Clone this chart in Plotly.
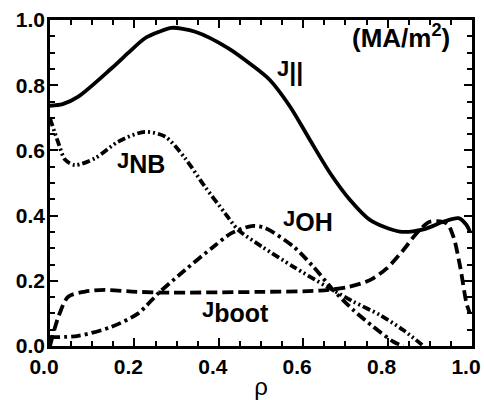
import plotly.graph_objects as go

# ---- data ----
rho_par = [0, 0.03, 0.067, 0.146, 0.186, 0.225, 0.257, 0.288, 0.344, 0.422, 0.478, 0.521,
           0.569, 0.616, 0.664, 0.711, 0.758, 0.829, 0.885, 0.932, 0.968, 0.987, 0.995]
j_par = [0.737, 0.742, 0.765, 0.852, 0.900, 0.944, 0.963, 0.976, 0.964, 0.914, 0.862, 0.816,
         0.734, 0.632, 0.530, 0.448, 0.387, 0.351, 0.358, 0.381, 0.392, 0.371, 0.351]

rho_nb = [0, 0.02, 0.036, 0.059, 0.107, 0.162, 0.225, 0.273, 0.32, 0.367, 0.415,
          0.446, 0.502, 0.577, 0.656, 0.719, 0.782, 0.837, 0.885]
j_nb = [0.698, 0.622, 0.571, 0.555, 0.576, 0.627, 0.657, 0.642, 0.576, 0.489, 0.407,
        0.356, 0.305, 0.243, 0.182, 0.136, 0.095, 0.049, 0.0]

rho_oh = [0, 0.067, 0.146, 0.209, 0.257, 0.32, 0.383, 0.43, 0.478, 0.509, 0.577,
          0.624, 0.671, 0.719, 0.766, 0.814, 0.837]
j_oh = [0.027, 0.031, 0.059, 0.100, 0.162, 0.233, 0.300, 0.346, 0.368, 0.362, 0.305,
        0.243, 0.172, 0.110, 0.059, 0.013, 0.0]

rho_boot = [0, 0.02, 0.043, 0.083, 0.13, 0.194, 0.265, 0.5, 0.64, 0.703, 0.758,
            0.798, 0.837, 0.869, 0.9, 0.94, 0.956, 0.972, 0.987, 0.995]
j_boot = [0.0, 0.09, 0.151, 0.167, 0.172, 0.167, 0.164, 0.166, 0.170, 0.18, 0.202,
          0.238, 0.294, 0.346, 0.381, 0.376, 0.335, 0.243, 0.131, 0.10]

tick_vals = [0, 0.2, 0.4, 0.6, 0.8, 1.0]
tick_text = ["0.0", "0.2", "0.4", "0.6", "0.8", "1.0"]

FONT = "Liberation Sans, Arial, Helvetica, sans-serif"

fig = go.Figure()
lw = 3.8
fig.add_trace(go.Scatter(x=rho_par, y=j_par, mode="lines", name="J||",
                         line=dict(color="black", width=lw, shape="spline", smoothing=0.8)))
fig.add_trace(go.Scatter(x=rho_nb, y=j_nb, mode="lines", name="JNB",
                         line=dict(color="black", width=lw, shape="spline", smoothing=0.8,
                                   dash="8px,3px,2px,3px,2px,3px")))
fig.add_trace(go.Scatter(x=rho_oh, y=j_oh, mode="lines", name="JOH",
                         line=dict(color="black", width=lw, shape="spline", smoothing=0.8,
                                   dash="10px,4px,3px,4px")))
fig.add_trace(go.Scatter(x=rho_boot, y=j_boot, mode="lines", name="Jboot",
                         line=dict(color="black", width=lw, shape="spline", smoothing=0.8,
                                   dash="11px,5px")))

axis_common = dict(
    range=[0, 1], tickvals=tick_vals, ticktext=tick_text, automargin=False,
    ticks="inside", ticklen=8, tickwidth=2, tickcolor="black",
    minor=dict(dtick=0.05, ticks="inside", ticklen=5, tickwidth=1.5, tickcolor="black"),
    showline=True, linewidth=2.5, linecolor="black", mirror="ticks",
    showgrid=False, zeroline=False,
    tickfont=dict(family=FONT, size=21, color="black", weight="bold"),
)

fig.update_xaxes(**axis_common, ticklabelshift=-6, ticklabelstandoff=0,
                 title=dict(text="ρ", font=dict(family=FONT, size=24, color="black"), standoff=4))
fig.update_yaxes(**axis_common, ticklabelstandoff=-2)

sub = lambda s: "<sub><span style='font-size:25px'>" + s + "</span></sub>"
annotations = [
    dict(text="J" + sub("||"), x=0.533, y=0.896, yanchor="top", size=22),
    dict(text="J" + sub("NB"), x=0.154, y=0.613, yanchor="top", size=22),
    dict(text="J" + sub("OH"), x=0.547, y=0.436, yanchor="top", size=22),
    dict(text="J" + sub("boot"), x=0.355, y=0.156, yanchor="top", size=22),
    dict(text="(MA/m<sup>2</sup>)", x=0.711, y=0.893, yanchor="bottom", size=26),
]
for a in annotations:
    size = a.pop("size")
    fig.add_annotation(xref="x", yref="y", xanchor="left", showarrow=False,
                       font=dict(family=FONT, size=size, color="black", weight="bold"), **a)

fig.update_layout(
    width=484, height=400,
    margin=dict(l=50, r=12, t=20, b=54),
    paper_bgcolor="white", plot_bgcolor="white",
    showlegend=False,
)

# remove the browser's default 8px page margin so the figure fills the window
fig.write_html("out.html", config={"displayModeBar": False},
               post_script="document.body.style.margin='0';document.body.style.overflow='hidden';")
